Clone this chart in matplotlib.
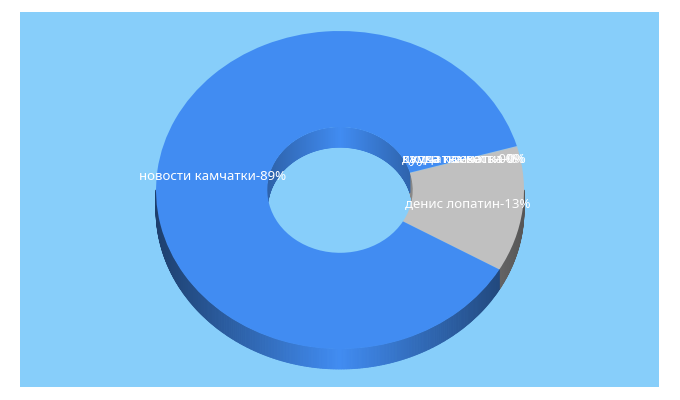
import numpy as np
import matplotlib
matplotlib.use('Agg')
import matplotlib.pyplot as plt
from matplotlib.collections import PolyCollection
from matplotlib.patches import Ellipse, Rectangle

# shares set the slice sizes, percents are the numbers printed on the chart
names = ['денис лопатин', 'куда поехать', 'дудка камчатка', 'камчатка вести', 'новости камчатки']
shares = [12.7, 0.03, 0.03, 0.03, 87.21]
percents = [13, 0, 0, 0, 89]
colors = ['#c0c0c0', '#c0c0c0', '#c0c0c0', '#c0c0c0', '#418cf2']

W, H = 680, 400
cx, cy = 340, 190
rx, ry = 184, 159
hole = 0.395
depth = 20
start = -30
bg = '#87cefa'

fig = plt.figure(figsize=(W / 100, H / 100), dpi=100, facecolor='white')
ax = fig.add_axes([0, 0, 1, 1])
ax.set_xlim(0, W)
ax.set_ylim(H, 0)
ax.axis('off')
ax.add_patch(Rectangle((20, 12), 639, 375, fc=bg, ec='none'))

fr = np.array(shares) / sum(shares)
edges = start + 360 * np.concatenate([[0], np.cumsum(fr)])


def wall(a, b, th0, th1, shade, base, **kw):
    # side of the ring between two angles, one quad per step
    th = np.radians(np.arange(th0, th1 + 0.5, 0.5))
    x = cx + a * np.cos(th)
    y = cy - b * np.sin(th)
    quads = []
    cols = []
    for i in range(len(th) - 1):
        quads.append([(x[i], y[i]), (x[i + 1], y[i + 1]),
                      (x[i + 1], y[i + 1] + depth), (x[i], y[i] + depth)])
        t = abs((x[i] + x[i + 1]) / 2 - cx) / a
        s = 1 - shade * t
        cols.append(tuple(np.array(matplotlib.colors.to_rgb(base)) * s))
    pc = PolyCollection(quads, facecolors=cols, edgecolors=cols, linewidths=0.6, **kw)
    ax.add_collection(pc)
    return pc


# outer wall, front half only
for i in range(len(shares)):
    lo, hi = edges[i], edges[i + 1]
    for k in [-360, 0]:
        a0 = max(lo + k, -180)
        a1 = min(hi + k, 0)
        if a1 > a0:
            wall(rx, ry, a0, a1, 0.55, colors[i])

# inner wall, back half seen through the hole
ha, hb = rx * hole, ry * hole
clip = Ellipse((cx, cy), 2 * ha, 2 * hb, fc=bg, ec='none')
ax.add_patch(clip)
for i in range(len(shares)):
    lo, hi = edges[i], edges[i + 1]
    for k in [-360, 0]:
        a0 = max(lo + k, 0)
        a1 = min(hi + k, 180)
        if a1 > a0:
            pc = wall(ha, hb, a0, a1, 0.3, colors[i])
            pc.set_clip_path(clip)

# top face
ax2 = fig.add_axes([(cx - rx) / W, 1 - (cy + ry) / H, 2 * rx / W, 2 * ry / H])
ax2.patch.set_alpha(0)
ax2.pie(shares, colors=colors, startangle=start, radius=1,
        wedgeprops={'width': 1 - hole, 'linewidth': 0})
ax2.set_aspect('auto')
ax2.set_xlim(-1, 1)
ax2.set_ylim(-1, 1)
ax2.axis('off')

r_mid = (1 + hole) / 2
for i in range(len(shares)):
    mid = np.radians((edges[i] + edges[i + 1]) / 2)
    ax2.text(r_mid * np.cos(mid), r_mid * np.sin(mid), f'{names[i]}-{percents[i]}%',
             color='white', fontsize=9.5, family='Noto Sans', ha='center', va='center')

fig.savefig('out.png', dpi=100, facecolor='white')
